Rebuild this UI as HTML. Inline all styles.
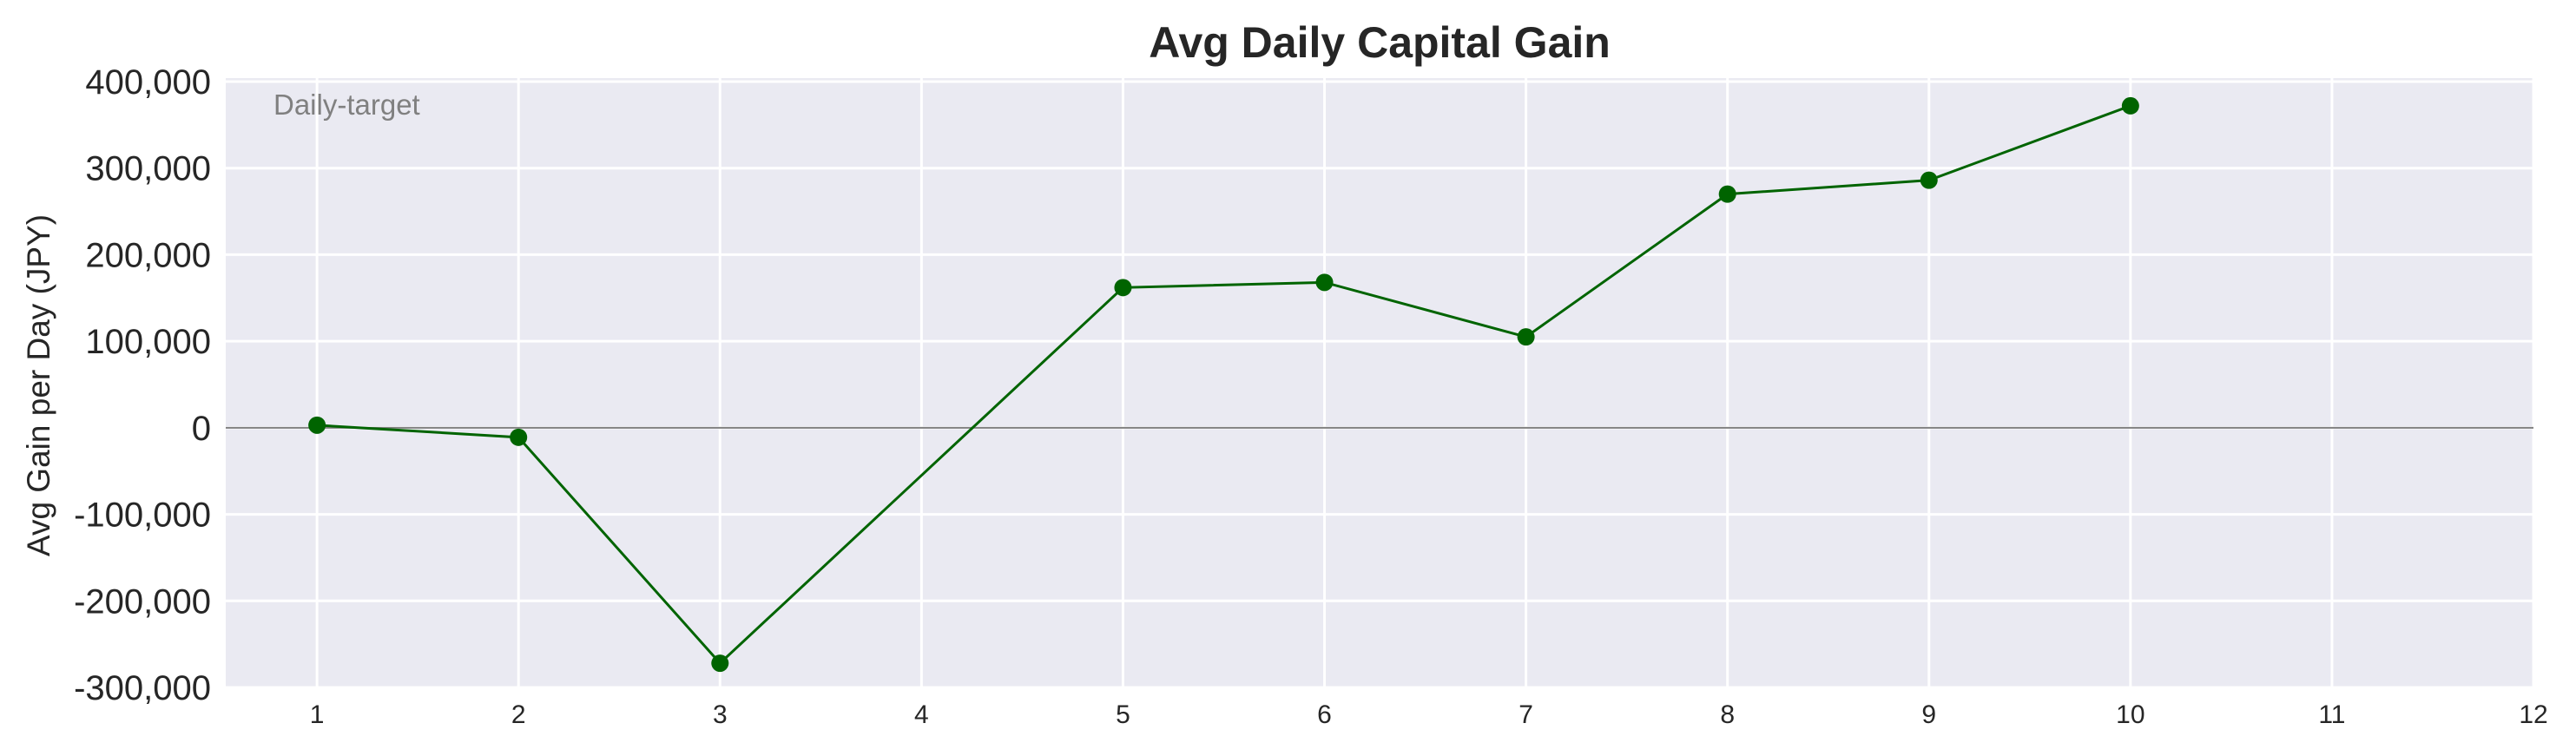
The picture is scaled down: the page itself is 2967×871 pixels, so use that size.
<!DOCTYPE html>
<html><head><meta charset="utf-8"><style>
html,body{margin:0;padding:0;background:#fff;}
svg{display:block;font-family:"Liberation Sans",sans-serif;}
</style></head><body>
<svg id="chart" width="2967" height="871" viewBox="0 0 2967 871" xmlns="http://www.w3.org/2000/svg">
<rect x="260" y="90" width="2658" height="702" fill="#eaeaf2"/>
<g id="grid"></g>
<g id="yticks"></g>
<g id="xticks"></g>
<line id="zero" stroke="#808080" stroke-width="2"/>
<g id="series"></g>
<text x="1589" y="66" text-anchor="middle" font-size="50" font-weight="bold" fill="#262626">Avg Daily Capital Gain</text>
<text transform="translate(57,444) rotate(-90)" text-anchor="middle" font-size="37" fill="#262626">Avg Gain per Day (JPY)</text>
<text x="315" y="132" font-size="33" fill="#808080">Daily-target</text>
</svg>
<script>
const days = [1,2,3,5,6,7,8,9,10];
const gains = [3000,-11000,-272000,162000,168000,105000,270000,286000,372000];
const yTickValues = [-300000,-200000,-100000,0,100000,200000,300000,400000];
const yTickLabels = ["-300,000","-200,000","-100,000","0","100,000","200,000","300,000","400,000"];
const xTickValues = [1,2,3,4,5,6,7,8,9,10,11,12];
const xTickLabels = ["1","2","3","4","5","6","7","8","9","10","11","12"];

const NS="http://www.w3.org/2000/svg";
const X0=260,X1=2918,Y0=90,Y1=792;
const xMin=0.547,xMax=12,yMin=-300000,yMax=404000;
function sx(v){return X0+(v-xMin)/(xMax-xMin)*(X1-X0);}
function sy(v){return Y1-(v-yMin)/(yMax-yMin)*(Y1-Y0);}
function mk(tag,attrs,parent){const e=document.createElementNS(NS,tag);for(const k in attrs)e.setAttribute(k,attrs[k]);parent.appendChild(e);return e;}
const grid=document.getElementById('grid'),yt=document.getElementById('yticks'),xt=document.getElementById('xticks'),ser=document.getElementById('series');
yTickValues.forEach((v,i)=>{
  const l=mk('line',{x1:X0,x2:X1,y1:sy(v),y2:sy(v),stroke:'#fff','stroke-width':3},grid);
  
  
  const t=mk('text',{x:243,y:sy(v)+14,'text-anchor':'end','font-size':40,fill:'#262626'},yt);
  t.textContent=yTickLabels[i];
  
  
});
xTickValues.forEach((v,i)=>{
  const l=mk('line',{x1:sx(v),x2:sx(v),y1:Y0,y2:Y1,stroke:'#fff','stroke-width':3},grid);
  
  
  const t=mk('text',{x:sx(v),y:833,'text-anchor':'middle','font-size':30,fill:'#262626'},xt);
  t.textContent=xTickLabels[i];
  
  
});
const z=document.getElementById('zero');
z.setAttribute('x1',X0);z.setAttribute('x2',X1);z.setAttribute('y1',sy(0));z.setAttribute('y2',sy(0));
const pts=days.map((d,i)=>sx(d)+','+sy(gains[i])).join(' ');
const pl=mk('polyline',{points:pts,fill:'none',stroke:'#006400','stroke-width':3},ser);


days.forEach((d,i)=>{
  const c=mk('circle',{cx:sx(d),cy:sy(gains[i]),r:10,fill:'#006400'},ser);
  
  
});
</script>
</body></html>
